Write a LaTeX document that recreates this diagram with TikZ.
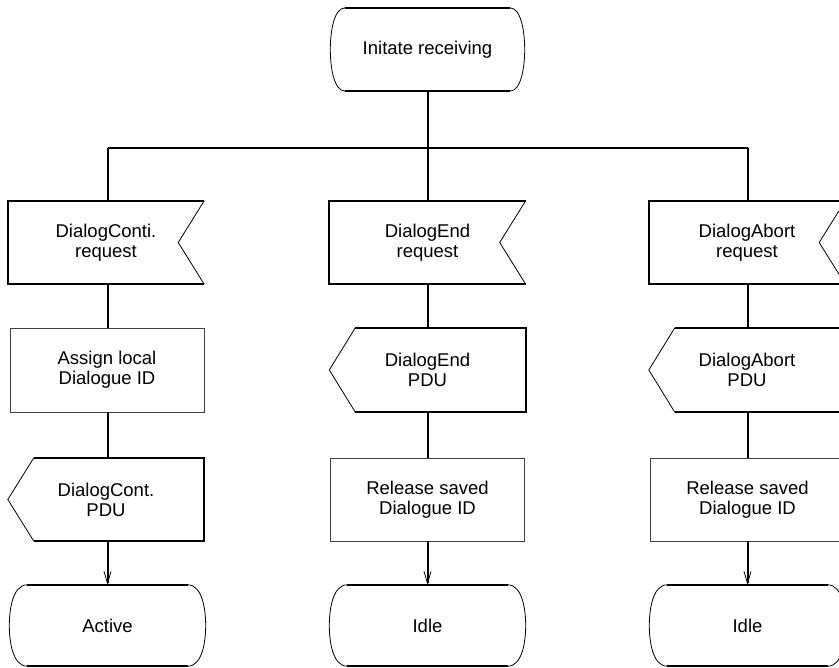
\documentclass[tikz,border=0pt]{standalone}
\usepackage{fontspec}
\setmainfont{Liberation Sans}
\usetikzlibrary{arrows.meta,calc}
\newcommand\sdlstate[2]{%
  \draw[ln] ($(#1.north west)+(#2,0pt)$) -- ($(#1.north east)+(-#2,0pt)$);
  \draw[ln] ($(#1.south west)+(#2,0pt)$) -- ($(#1.south east)+(-#2,0pt)$);
  \draw[thn] ($(#1.north east)+(-#2,0pt)$) .. controls ($(#1.north east)+(-3pt,0pt)$) and ($(#1.north east)+(0pt,-26pt)$) .. (#1.east)
     .. controls ($(#1.south east)+(0pt,26pt)$) and ($(#1.south east)+(-3pt,0pt)$) .. ($(#1.south east)+(-#2,0pt)$);
  \draw[thn] ($(#1.north west)+(#2,0pt)$) .. controls ($(#1.north west)+(3pt,0pt)$) and ($(#1.north west)+(0pt,-26pt)$) .. (#1.west)
     .. controls ($(#1.south west)+(0pt,26pt)$) and ($(#1.south west)+(3pt,0pt)$) .. ($(#1.south west)+(#2,0pt)$);
}
\newcommand\sdlinput[1]{%
  \draw[ln] (#1.north east) -- (#1.north west) -- (#1.south west) -- (#1.south east);
  \draw[thn] (#1.north east) -- ($(#1.east)+(-26pt,0pt)$) -- (#1.south east);
}
\newcommand\sdloutput[1]{%
  \draw[ln] ($(#1.north west)+(26pt,0pt)$) -- (#1.north east) -- (#1.south east) -- ($(#1.south west)+(26pt,0pt)$);
  \draw[thn] ($(#1.north west)+(26pt,0pt)$) -- (#1.west) -- ($(#1.south west)+(26pt,0pt)$);
}
\begin{document}
\begin{tikzpicture}[x=1pt,y=-1pt,
  lbl/.style={font=\fontsize{18.5}{20}\selectfont, align=center, inner sep=0pt},
  ln/.style={line width=2pt},
  thn/.style={line width=0.8pt},
  taskbox/.style={lbl, draw=black!75, thn, minimum width=194pt, minimum height=84pt},
  sig/.style={lbl, minimum width=196pt, minimum height=83pt},
  statebox/.style={lbl, minimum width=196pt, minimum height=81pt},
  conn/.style={ln},
  arr/.style={ln, -{Straight Barb[length=12pt,width=7pt,line width=0.8pt]}},
]
\useasboundingbox (0,0) rectangle (839,668);
\node[statebox, minimum width=194pt, minimum height=83pt] (start) at (427.5,49.5) {Initate receiving};
\coordinate (b1) at (107.5,148);
\coordinate (b2) at (427.5,148);
\coordinate (b3) at (747.5,148);
% row 1: inputs
\node[sig] (in1) at (106,242.5) {DialogConti.\\request};
\node[sig] (in2) at (427.5,242.5) {DialogEnd\\request};
\node[sig] (in3) at (747,242.5) {DialogAbort\\request};
% row 2
\node[taskbox] (t1) at (107,370) {Assign local\\Dialogue ID};
\node[sig, minimum height=84pt] (o2) at (427.5,370) {DialogEnd\\PDU};
\node[sig, minimum height=84pt] (o3) at (747,370) {DialogAbort\\PDU};
% row 3
\node[sig] (o1) at (106,499.5) {DialogCont.\\PDU};
\node[taskbox, minimum height=83pt] (t2) at (427.5,499.5) {Release saved\\Dialogue ID};
\node[taskbox, minimum height=83pt] (t3) at (747.5,499.5) {Release saved\\Dialogue ID};
% states
\node[statebox] (s1) at (107.5,625.5) {Active};
\node[statebox] (s2) at (427.5,625.5) {Idle};
\node[statebox] (s3) at (747.5,625.5) {Idle};
% outlines
\sdlstate{start}{15pt}
\sdlinput{in1}\sdlinput{in2}\sdlinput{in3}
\sdloutput{o1}\sdloutput{o2}\sdloutput{o3}
\sdlstate{s1}{18pt}\sdlstate{s2}{18pt}\sdlstate{s3}{18pt}
% connectors
\draw[conn] (start.south) -- (b2);
\draw[conn] (b1) -- (b3);
\draw[conn] (b1) -- (b1 |- in1.north);
\draw[conn] (b2) -- (in2.north);
\draw[conn] (b3) -- (b3 |- in3.north);
\draw[conn] (b1 |- in1.south) -- (b1 |- t1.north);
\draw[conn] (in2.south) -- (o2.north);
\draw[conn] (b3 |- in3.south) -- (b3 |- o3.north);
\draw[conn] (b1 |- t1.south) -- (b1 |- o1.north);
\draw[conn] (o2.south) -- (t2.north);
\draw[conn] (b3 |- o3.south) -- (t3.north);
\draw[arr] (b1 |- o1.south) -- (s1.north);
\draw[arr] (t2.south) -- (s2.north);
\draw[arr] (t3.south) -- (s3.north);
\end{tikzpicture}
\end{document}
